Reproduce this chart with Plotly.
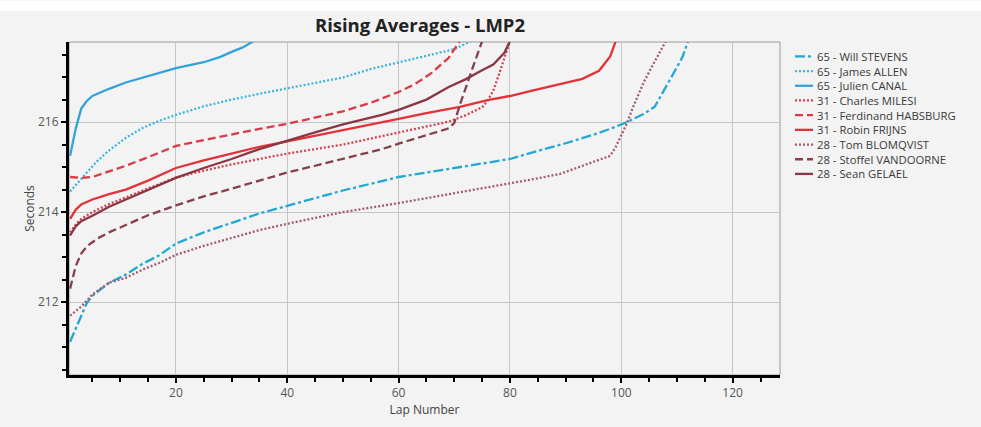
import plotly.graph_objects as go

# ---------------- data ----------------
names = ["65 - Will STEVENS", "65 - James ALLEN", "65 - Julien CANAL",
         "31 - Charles MILESI", "31 - Ferdinand HABSBURG", "31 - Robin FRIJNS",
         "28 - Tom BLOMQVIST", "28 - Stoffel VANDOORNE", "28 - Sean GELAEL"]

will_laps = [1, 2, 3, 4, 5, 8, 11, 14, 17, 20, 25, 30, 35, 40, 50, 60, 70, 80, 85, 90, 95, 98, 101, 104, 106, 107, 109, 111, 112]
will_vals = [211.12, 211.4, 211.72, 211.98, 212.14, 212.43, 212.61, 212.85, 213.04, 213.3, 213.55, 213.76, 213.97, 214.14, 214.48, 214.78, 214.98, 215.18, 215.36, 215.53, 215.72, 215.85, 216.0, 216.18, 216.34, 216.55, 217.0, 217.45, 217.8]

james_laps = [1, 2, 3, 4, 6, 8, 11, 14, 17, 20, 25, 30, 35, 40, 45, 50, 55, 60, 65, 70, 73]
james_vals = [214.46, 214.6, 214.76, 214.88, 215.15, 215.37, 215.65, 215.87, 216.03, 216.16, 216.35, 216.5, 216.63, 216.75, 216.87, 216.99, 217.18, 217.33, 217.47, 217.62, 217.8]

julien_laps = [1, 2, 3, 4, 5, 8, 11, 14, 17, 20, 25, 28, 30, 32, 34]
julien_vals = [215.25, 215.85, 216.3, 216.47, 216.58, 216.74, 216.88, 216.99, 217.1, 217.2, 217.33, 217.45, 217.56, 217.66, 217.8]

charles_laps = [1, 2, 3, 5, 8, 11, 15, 20, 25, 30, 35, 40, 50, 57, 60, 65, 69, 72, 75, 76, 77, 78, 79, 80]
charles_vals = [213.55, 213.72, 213.85, 214.0, 214.18, 214.33, 214.53, 214.77, 214.92, 215.06, 215.18, 215.3, 215.5, 215.69, 215.76, 215.9, 216.01, 216.15, 216.33, 216.48, 216.7, 217.05, 217.4, 217.8]

ferdinand_laps = [1, 3, 5, 8, 11, 15, 20, 25, 30, 35, 40, 45, 50, 55, 57, 60, 63, 66, 69, 71]
ferdinand_vals = [214.78, 214.76, 214.78, 214.9, 215.03, 215.22, 215.47, 215.6, 215.73, 215.85, 215.96, 216.1, 216.24, 216.43, 216.52, 216.67, 216.85, 217.1, 217.43, 217.8]

robin_laps = [1, 2, 3, 5, 8, 11, 15, 20, 25, 30, 35, 40, 50, 57, 60, 65, 71, 76, 80, 84, 89, 93, 96, 97, 98, 99]
robin_vals = [213.85, 214.05, 214.17, 214.28, 214.4, 214.5, 214.7, 214.98, 215.15, 215.3, 215.45, 215.57, 215.82, 215.98, 216.07, 216.2, 216.34, 216.49, 216.58, 216.7, 216.85, 216.96, 217.14, 217.3, 217.46, 217.8]

tom_laps = [1, 3, 5, 8, 11, 14, 17, 20, 25, 30, 35, 40, 50, 60, 70, 80, 85, 89, 95, 98, 99, 100, 101, 102, 104, 106, 108]
tom_vals = [211.7, 211.9, 212.17, 212.43, 212.54, 212.72, 212.87, 213.05, 213.25, 213.42, 213.6, 213.74, 214.0, 214.2, 214.42, 214.63, 214.75, 214.85, 215.11, 215.25, 215.45, 215.7, 215.97, 216.3, 216.88, 217.35, 217.8]

stoffel_laps = [1, 2, 3, 4, 5, 6, 8, 11, 15, 20, 25, 30, 35, 40, 45, 50, 57, 60, 65, 69, 70, 71, 73, 75]
stoffel_vals = [212.3, 212.8, 213.08, 213.24, 213.33, 213.42, 213.55, 213.72, 213.93, 214.15, 214.35, 214.52, 214.7, 214.88, 215.03, 215.18, 215.4, 215.52, 215.7, 215.86, 215.98, 216.38, 217.1, 217.8]

sean_laps = [1, 2, 3, 5, 8, 11, 15, 20, 25, 30, 35, 40, 45, 50, 57, 60, 65, 69, 72, 75, 77, 79, 80]
sean_vals = [213.48, 213.68, 213.8, 213.92, 214.12, 214.28, 214.5, 214.76, 214.98, 215.18, 215.4, 215.59, 215.77, 215.95, 216.16, 216.27, 216.5, 216.78, 216.95, 217.15, 217.28, 217.54, 217.8]

all_laps = [will_laps, james_laps, julien_laps, charles_laps, ferdinand_laps, robin_laps, tom_laps, stoffel_laps, sean_laps]
all_vals = [will_vals, james_vals, julien_vals, charles_vals, ferdinand_vals, robin_vals, tom_vals, stoffel_vals, sean_vals]

colors = ["#22a8d4", "#3fb4dc", "#33a2d8", "#d2434f", "#d93a45", "#e2323a", "#a35b68", "#86404b", "#8c3644"]
dashes = ["10px,3px,3px,3px", "2px,2px", "solid", "2px,2px", "8px,4px", "solid", "2px,2px", "8px,4px", "solid"]

x_ticks = [20, 40, 60, 80, 100, 120]
y_ticks = [212, 214, 216]

# ---------------- layout geometry (pixels) ----------------
W, H = 981, 427
PL, PR, PT, PB = 69, 780, 42, 382
pw, ph = PR - PL, PB - PT

def px2x(px):
    return (px - PL) / pw

def py2y(py):
    return (PB - py) / ph

FONT = "Open Sans, Noto Sans"

fig = go.Figure()
for n, lx, ly, c, d in zip(names, all_laps, all_vals, colors, dashes):
    fig.add_trace(go.Scatter(x=lx, y=ly, mode="lines", name=n, showlegend=False,
                             line=dict(color=c, width=2.3, dash=d)))

shapes = []
annotations = []
# white strip at the very top
shapes.append(dict(type="rect", xref="paper", yref="paper",
                   x0=px2x(0), x1=px2x(W), y0=py2y(10), y1=py2y(0),
                   fillcolor="white", line=dict(width=0), layer="below"))
# thin grey frame around plot area
shapes.append(dict(type="rect", xref="paper", yref="paper", x0=0, x1=1, y0=0, y1=1,
                   line=dict(color="#9a9a9a", width=1), layer="below"))

# manual legend
leg_y0, leg_dy = 56.7, 15.0
for i, (n, c, d) in enumerate(zip(names, colors, dashes)):
    cy = leg_y0 + i * leg_dy
    shapes.append(dict(type="line", xref="paper", yref="paper",
                       x0=px2x(795), x1=px2x(813), y0=py2y(cy), y1=py2y(cy),
                       line=dict(color=c, width=2.3, dash=d)))
    annotations.append(dict(text=n, xref="paper", yref="paper", x=px2x(816), y=py2y(cy),
                            xanchor="left", yanchor="middle", showarrow=False, borderpad=0,
                            font=dict(family=FONT, size=11.3, color="#3a3a3a")))

fig.update_layout(
    width=W, height=H,
    margin=dict(l=PL, r=W - PR, t=PT, b=H - PB),
    paper_bgcolor="#f3f3f3", plot_bgcolor="#f3f3f3",
    title=dict(text="<b>Rising Averages - LMP2</b>", x=(420 - PL) / pw, xref="paper",
               y=1 - 26 / H, yref="container", yanchor="middle", xanchor="center",
               font=dict(family=FONT, size=18.5, color="#222")),
    font=dict(family=FONT, size=12, color="#444"),
    shapes=shapes, annotations=annotations, showlegend=False,
)
fig.update_xaxes(range=[0.8, 128.5], tickvals=x_ticks, showgrid=True, gridcolor="#c6c6c6", gridwidth=1,
                 showline=True, linecolor="black", linewidth=3, ticks="outside", ticklen=5,
                 tickcolor="black", tickwidth=1.5, zeroline=False,
                 minor=dict(dtick=5, tick0=0, ticks="outside", ticklen=4, tickcolor="black", showgrid=False),
                 title=dict(text="Lap Number", standoff=5, font=dict(size=12, color="#444")),
                 tickfont=dict(size=12, color="#555"))
fig.update_yaxes(range=[210.38, 217.78], tickvals=y_ticks, showgrid=True, gridcolor="#c6c6c6", gridwidth=1,
                 showline=True, linecolor="black", linewidth=3, ticks="outside", ticklen=5,
                 tickcolor="black", tickwidth=1.5, zeroline=False,
                 minor=dict(dtick=0.5, tick0=210, ticks="outside", ticklen=4, tickcolor="black", showgrid=False),
                 title=dict(text="Seconds", standoff=1, font=dict(size=12, color="#444")),
                 tickfont=dict(size=12, color="#555"))

fig.write_html("out.html")
